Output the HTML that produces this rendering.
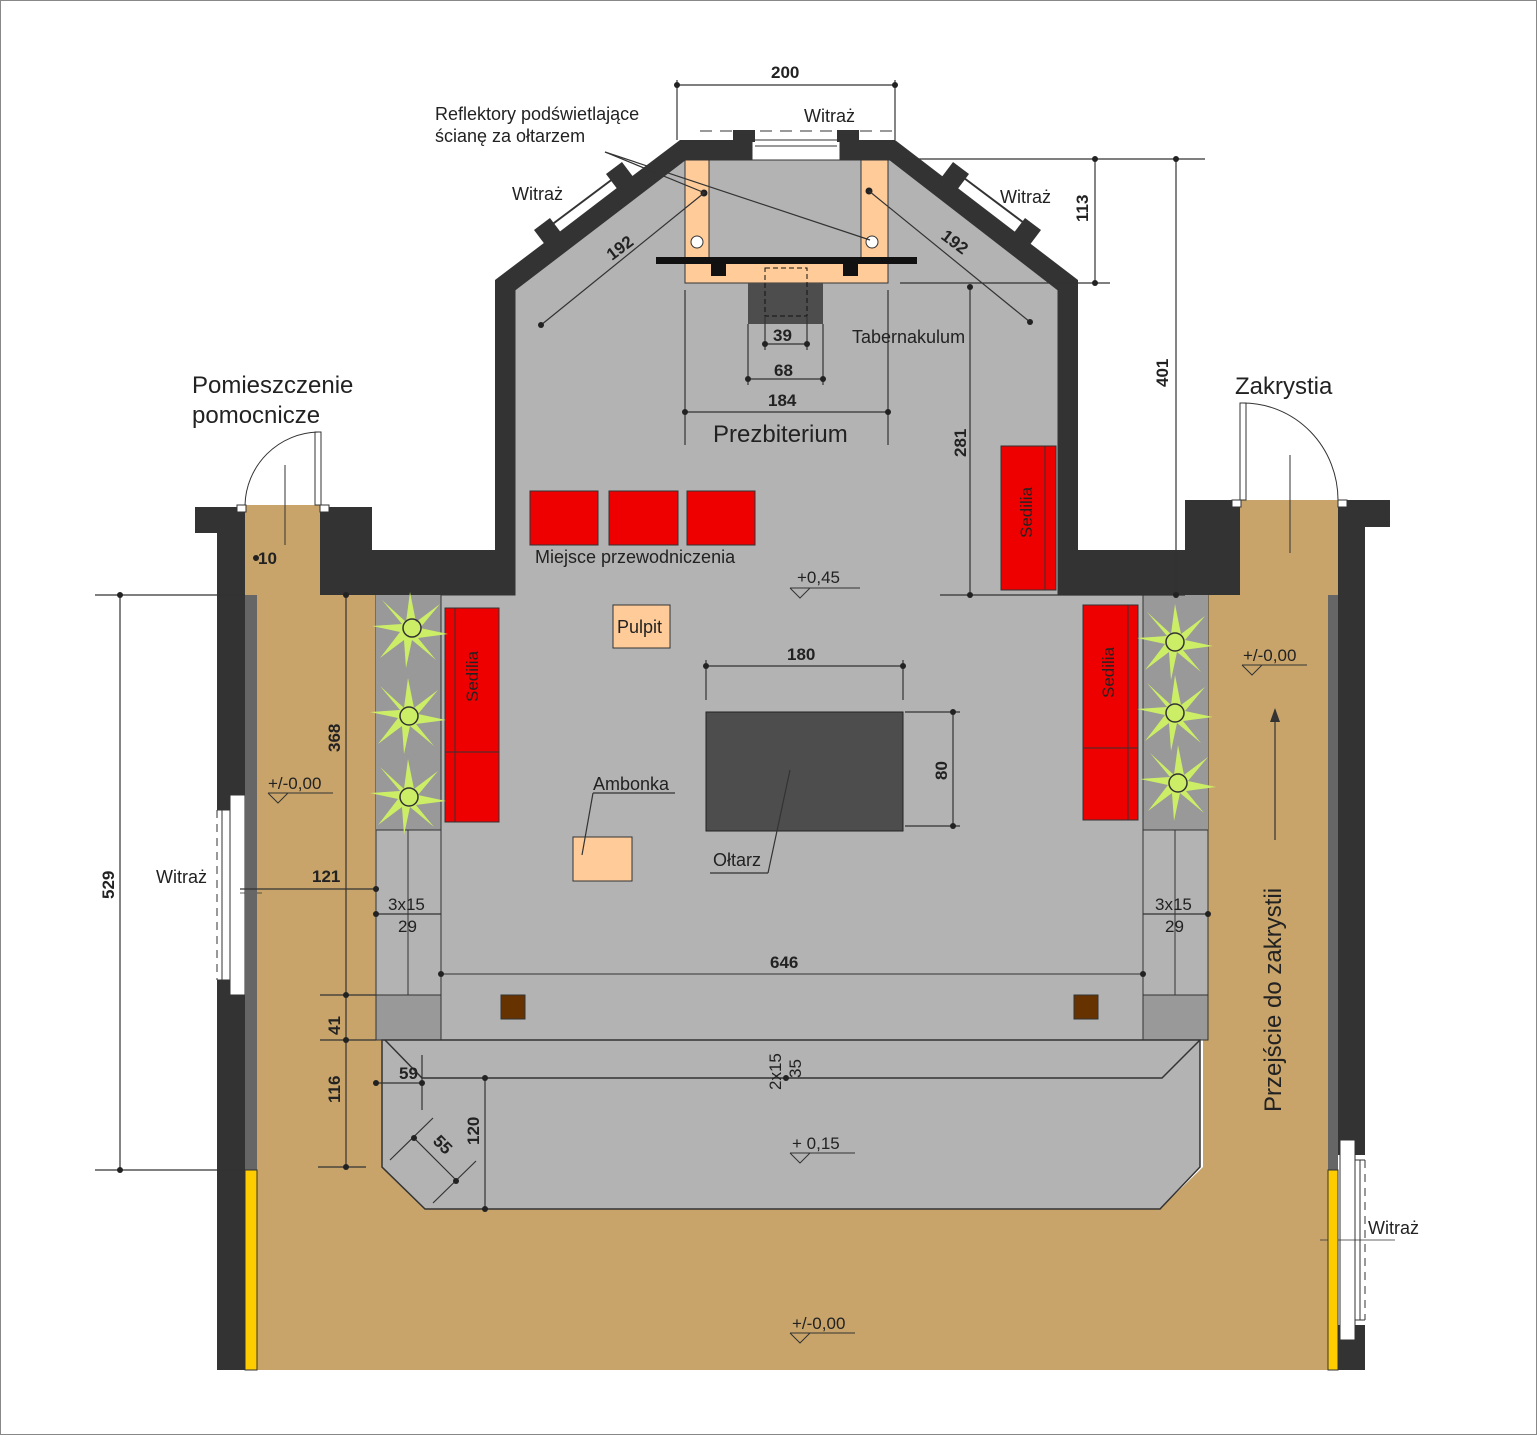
<!DOCTYPE html>
<html><head><meta charset="utf-8"><style>body{margin:0;background:#fff}svg{display:block}text{font-family:"Liberation Sans",sans-serif;fill:#222}.b{font-weight:bold;font-size:17px}.l{font-size:18px}.s{font-size:17px}</style></head><body>
<svg width="1538" height="1436" viewBox="0 0 1538 1436" xmlns="http://www.w3.org/2000/svg">
<defs>
<path id="pl" d="M0,-38 L6,-8 L30,-26 L10,-2 L38,4 L8,8 L26,30 L2,10 L-4,38 L-6,10 L-30,28 L-10,2 L-38,-4 L-8,-6 L-28,-30 L-4,-8 Z"/>
</defs>
<rect x="0.5" y="0.5" width="1536" height="1434" fill="#fff" stroke="#888"/>
<path d="M245,505 H320 V595 H376 V1040 H383 V1167 L425,1209 H1160 L1203,1167 V1040 H1208 V595 H1240 V500 H1338 V1370 H245 Z" fill="#c8a46a"/>
<path d="M515,290 L685,160 H890 L1058,290 V595 H1208 V1040 H376 V595 H515 Z" fill="#b3b3b3" stroke="#333" stroke-width="1"/>
<rect x="376" y="595" width="65" height="235" fill="#999"/>
<rect x="1143" y="595" width="65" height="235" fill="#999"/>
<rect x="376" y="830" width="65" height="165" fill="#b3b3b3" stroke="#333"/>
<line x1="408" y1="830" x2="408" y2="995" stroke="#333"/>
<rect x="376" y="995" width="65" height="45" fill="#999" stroke="#333"/>
<rect x="1143" y="830" width="65" height="165" fill="#b3b3b3" stroke="#333"/>
<line x1="1175" y1="830" x2="1175" y2="995" stroke="#333"/>
<rect x="1143" y="995" width="65" height="45" fill="#999" stroke="#333"/>
<line x1="441" y1="595" x2="441" y2="1040" stroke="#333"/>
<line x1="1143" y1="595" x2="1143" y2="1040" stroke="#333"/>
<line x1="441" y1="974" x2="1143" y2="974" stroke="#333"/>
<path d="M382,1040 H1200 V1167 L1160,1209 H425 L382,1167 Z" fill="#b3b3b3" stroke="#333" stroke-width="1.5"/>
<path d="M385,1040 L422,1078 H1162 L1200,1040" fill="none" stroke="#333" stroke-width="1.5"/>
<g fill="#333">
<path d="M195,507 H245 V1370 H217 V533 H195 Z"/>
<path d="M320,507 H372 V550 H495 V280 L680,140 H752 V160 H685 L515,290 V595 H320 Z"/>
<path d="M840,140 H895 L1078,280 V550 H1185 V500 H1240 V595 H1058 V290 L890,160 H840 Z"/>
<path d="M1338,500 H1390 V527 H1365 V1370 H1338 Z"/>
</g>
<rect x="752" y="140" width="88" height="20" fill="#fff" stroke="#333"/>
<rect x="733" y="130" width="22" height="12" fill="#333"/><rect x="837" y="130" width="22" height="12" fill="#333"/>
<line x1="755" y1="146" x2="837" y2="146" stroke="#333"/>
<line x1="700" y1="131" x2="900" y2="131" stroke="#333" stroke-dasharray="12,8"/>
<g stroke="#333" stroke-width="2">
<line x1="620" y1="178" x2="552" y2="230" stroke="#fff" stroke-width="12"/>
<line x1="622" y1="172" x2="550" y2="226"/>
<line x1="958" y1="178" x2="1026" y2="230" stroke="#fff" stroke-width="12"/>
<line x1="956" y1="172" x2="1028" y2="226"/>
</g>
<rect x="610" y="166" width="20" height="20" fill="#333" transform="rotate(-37 620 176)"/>
<rect x="538" y="222" width="20" height="20" fill="#333" transform="rotate(-37 548 232)"/>
<rect x="945" y="166" width="20" height="20" fill="#333" transform="rotate(37 955 176)"/>
<rect x="1017" y="222" width="20" height="20" fill="#333" transform="rotate(37 1027 232)"/>
<!-- left window -->
<rect x="217" y="810" width="28" height="170" fill="#fff"/>
<rect x="230" y="795" width="15" height="200" fill="#fff" stroke="#333"/>
<line x1="222" y1="810" x2="222" y2="980" stroke="#333"/>
<line x1="217" y1="810" x2="217" y2="980" stroke="#333" stroke-dasharray="8,6"/>
<line x1="217" y1="810" x2="230" y2="810" stroke="#333"/><line x1="217" y1="980" x2="230" y2="980" stroke="#333"/>
<!-- right window -->
<rect x="1338" y="1155" width="27" height="170" fill="#fff"/>
<rect x="1340" y="1140" width="15" height="200" fill="#fff" stroke="#333"/>
<line x1="1360" y1="1160" x2="1360" y2="1320" stroke="#333"/>
<line x1="1365" y1="1160" x2="1365" y2="1320" stroke="#333" stroke-dasharray="8,6"/>
<line x1="1355" y1="1160" x2="1365" y2="1160" stroke="#333"/><line x1="1355" y1="1320" x2="1365" y2="1320" stroke="#333"/>
<line x1="1320" y1="1240" x2="1395" y2="1240" stroke="#333" stroke-width="0.8"/>
<line x1="240" y1="893" x2="262" y2="893" stroke="#333" stroke-width="0.8"/>
<rect x="245" y="595" width="12" height="575" fill="#666"/>
<rect x="245" y="1170" width="12" height="200" fill="#ffcc00" stroke="#333"/>
<rect x="1328" y="595" width="10" height="575" fill="#666"/>
<rect x="1328" y="1170" width="10" height="200" fill="#ffcc00" stroke="#333"/>
<rect x="237" y="505" width="9" height="7" fill="#fff" stroke="#333"/><rect x="320" y="505" width="9" height="7" fill="#fff" stroke="#333"/>
<rect x="315" y="432" width="6" height="73" fill="#fff" stroke="#333"/>
<path d="M245,505 A75,75 0 0 1 318,432" fill="none" stroke="#333"/>
<rect x="1232" y="500" width="9" height="7" fill="#fff" stroke="#333"/><rect x="1338" y="500" width="9" height="7" fill="#fff" stroke="#333"/>
<rect x="1240" y="403" width="6" height="97" fill="#fff" stroke="#333"/>
<path d="M1243,403 A95,97 0 0 1 1338,500" fill="none" stroke="#333"/>
<line x1="285" y1="465" x2="285" y2="545" stroke="#333"/><line x1="1290" y1="455" x2="1290" y2="553" stroke="#333"/>
<rect x="685" y="160" width="24" height="103" fill="#ffcc99" stroke="#333"/>
<rect x="861" y="160" width="27" height="103" fill="#ffcc99" stroke="#333"/>
<rect x="685" y="262" width="203" height="21" fill="#ffcc99" stroke="#333"/>
<rect x="656" y="257" width="261" height="7" fill="#111"/>
<rect x="711" y="262" width="15" height="14" fill="#111"/><rect x="843" y="262" width="15" height="14" fill="#111"/>
<rect x="748" y="283" width="75" height="41" fill="#4d4d4d"/>
<rect x="765" y="268" width="42" height="48" fill="none" stroke="#111" stroke-dasharray="5,3"/>
<circle cx="697" cy="242" r="6" fill="#fff" stroke="#333"/><circle cx="872" cy="242" r="6" fill="#fff" stroke="#333"/>
<circle cx="704" cy="193" r="3.5" fill="#222"/><circle cx="869" cy="191" r="3.5" fill="#222"/>
<rect x="706" y="712" width="197" height="119" fill="#4d4d4d" stroke="#222"/>
<g fill="#ee0000" stroke="#333">
<rect x="530" y="491" width="68" height="54"/><rect x="609" y="491" width="69" height="54"/><rect x="687" y="491" width="68" height="54"/>
<rect x="1001" y="446" width="55" height="144"/><line x1="1045" y1="446" x2="1045" y2="590"/>
<rect x="445" y="608" width="54" height="214"/><line x1="445" y1="752" x2="499" y2="752"/><line x1="455" y1="608" x2="455" y2="822"/>
<rect x="1083" y="605" width="55" height="215"/><line x1="1083" y1="748" x2="1138" y2="748"/><line x1="1128" y1="605" x2="1128" y2="820"/>
</g>
<rect x="613" y="605" width="57" height="43" fill="#ffcc99" stroke="#333"/>
<rect x="573" y="837" width="59" height="44" fill="#ffcc99" stroke="#333"/>
<rect x="501" y="995" width="24" height="24" fill="#663300" stroke="#333"/>
<rect x="1074" y="995" width="24" height="24" fill="#663300" stroke="#333"/>
<g fill="#ccee66"><use href="#pl" x="410" y="630"/><use href="#pl" x="408" y="716"/><use href="#pl" x="408" y="797"/><use href="#pl" x="1175" y="642"/><use href="#pl" x="1175" y="713"/><use href="#pl" x="1178" y="783"/></g>
<g fill="none" stroke="#333" stroke-width="1.5"><circle cx="412" cy="628" r="9"/><circle cx="409" cy="716" r="9"/><circle cx="409" cy="797" r="9"/><circle cx="1175" cy="642" r="9"/><circle cx="1175" cy="713" r="9"/><circle cx="1178" cy="783" r="9"/></g>
<g stroke="#333" stroke-width="1.2" fill="none">
<line x1="677" y1="85" x2="895" y2="85"/><line x1="677" y1="80" x2="677" y2="140"/><line x1="895" y1="80" x2="895" y2="140"/>
<line x1="1095" y1="159" x2="1095" y2="283"/><line x1="900" y1="159" x2="1205" y2="159"/><line x1="900" y1="283" x2="1110" y2="283"/>
<line x1="1176" y1="159" x2="1176" y2="595"/>
<line x1="970" y1="287" x2="970" y2="595"/><line x1="940" y1="595" x2="1185" y2="595"/>
<line x1="541" y1="325" x2="704" y2="193"/><line x1="1030" y1="322" x2="869" y2="191"/>
<line x1="685" y1="290" x2="685" y2="445"/><line x1="888" y1="290" x2="888" y2="445"/>
<line x1="685" y1="412" x2="888" y2="412"/><line x1="748" y1="379" x2="823" y2="379"/><line x1="765" y1="344" x2="807" y2="344"/>
<line x1="748" y1="324" x2="748" y2="385"/><line x1="823" y1="324" x2="823" y2="385"/><line x1="765" y1="316" x2="765" y2="350"/><line x1="807" y1="316" x2="807" y2="350"/>
<line x1="706" y1="666" x2="903" y2="666"/><line x1="706" y1="660" x2="706" y2="700"/><line x1="903" y1="660" x2="903" y2="700"/>
<line x1="953" y1="712" x2="953" y2="826"/><line x1="905" y1="712" x2="960" y2="712"/><line x1="905" y1="826" x2="960" y2="826"/>
<line x1="120" y1="595" x2="120" y2="1170"/><line x1="95" y1="595" x2="245" y2="595"/><line x1="95" y1="1170" x2="245" y2="1170"/>
<line x1="346" y1="595" x2="346" y2="1167"/><line x1="320" y1="995" x2="376" y2="995"/><line x1="320" y1="1040" x2="376" y2="1040"/><line x1="318" y1="1167" x2="366" y2="1167"/>
<line x1="240" y1="889" x2="376" y2="889"/><line x1="376" y1="914" x2="441" y2="914"/><line x1="1143" y1="914" x2="1208" y2="914"/>
<line x1="376" y1="1083" x2="422" y2="1083"/><line x1="422" y1="1055" x2="422" y2="1110"/><line x1="485" y1="1078" x2="485" y2="1209"/>
<line x1="414" y1="1138" x2="457" y2="1181"/><line x1="390" y1="1160" x2="433" y2="1118"/><line x1="433" y1="1203" x2="476" y2="1161"/>
<line x1="605" y1="152" x2="705" y2="193"/><line x1="605" y1="152" x2="870" y2="240"/>
<line x1="790" y1="770" x2="768" y2="873"/><line x1="710" y1="873" x2="768" y2="873"/>
<line x1="593" y1="793" x2="675" y2="793"/><line x1="593" y1="793" x2="582" y2="855"/>
<line x1="1275" y1="710" x2="1275" y2="840"/>
</g>
<path d="M1275,708 l-5,14 h10 z" fill="#333"/>
<g fill="#222">
<circle cx="677" cy="85" r="3"/><circle cx="895" cy="85" r="3"/><circle cx="1095" cy="159" r="3"/><circle cx="1095" cy="283" r="3"/><circle cx="1176" cy="159" r="3"/><circle cx="1176" cy="595" r="3"/><circle cx="970" cy="287" r="3"/><circle cx="970" cy="595" r="3"/>
<circle cx="541" cy="325" r="3"/><circle cx="1030" cy="322" r="3"/><circle cx="685" cy="412" r="3"/><circle cx="888" cy="412" r="3"/><circle cx="748" cy="379" r="3"/><circle cx="823" cy="379" r="3"/><circle cx="765" cy="344" r="3"/><circle cx="807" cy="344" r="3"/>
<circle cx="706" cy="666" r="3"/><circle cx="903" cy="666" r="3"/><circle cx="953" cy="712" r="3"/><circle cx="953" cy="826" r="3"/><circle cx="441" cy="974" r="3"/><circle cx="1143" cy="974" r="3"/>
<circle cx="120" cy="595" r="3"/><circle cx="120" cy="1170" r="3"/><circle cx="346" cy="595" r="3"/><circle cx="346" cy="995" r="3"/><circle cx="346" cy="1040" r="3"/><circle cx="346" cy="1167" r="3"/>
<circle cx="376" cy="889" r="3"/><circle cx="376" cy="914" r="3"/><circle cx="1208" cy="914" r="3"/><circle cx="376" cy="1083" r="3"/><circle cx="422" cy="1083" r="3"/><circle cx="485" cy="1078" r="3"/><circle cx="485" cy="1209" r="3"/><circle cx="786" cy="1078" r="3"/>
<circle cx="414" cy="1138" r="3"/><circle cx="456" cy="1181" r="3"/><circle cx="256" cy="558" r="3"/>
</g>
<g fill="none" stroke="#333"><path d="M790,588 h70 M790,588 l10,10 l10,-10"/><path d="M1242,665 h65 M1242,665 l10,10 l10,-10"/><path d="M268,793 h65 M268,793 l10,10 l10,-10"/><path d="M790,1153 h65 M790,1153 l10,10 l10,-10"/><path d="M790,1333 h65 M790,1333 l10,10 l10,-10"/></g>
<text x="771" y="78" class="b">200</text>
<text x="435" y="120" class="l">Reflektory podświetlające</text>
<text x="435" y="142" class="l">ścianę za ołtarzem</text>
<text x="804" y="122" class="l">Witraż</text>
<text x="512" y="200" class="l">Witraż</text>
<text x="1000" y="203" class="l">Witraż</text>
<text class="b" transform="translate(1088,222) rotate(-90)">113</text>
<text class="b" transform="translate(1168,387) rotate(-90)">401</text>
<text class="b" transform="translate(966,457) rotate(-90)">281</text>
<text class="b" transform="translate(612,261) rotate(-37)">192</text>
<text class="b" transform="translate(940,238) rotate(37)">192</text>
<text x="773" y="341" class="b">39</text>
<text x="774" y="376" class="b">68</text>
<text x="768" y="406" class="b">184</text>
<text x="852" y="343" class="l">Tabernakulum</text>
<text x="713" y="442" style="font-size:24px">Prezbiterium</text>
<text x="192" y="393" style="font-size:24px">Pomieszczenie</text>
<text x="192" y="423" style="font-size:24px">pomocnicze</text>
<text x="1235" y="394" style="font-size:24px">Zakrystia</text>
<text x="535" y="563" class="l">Miejsce przewodniczenia</text>
<text x="797" y="583" class="s">+0,45</text>
<text x="617" y="633" class="l">Pulpit</text>
<text class="s" transform="translate(1032,538) rotate(-90)">Sedilia</text>
<text class="s" transform="translate(478,702) rotate(-90)">Sedilia</text>
<text class="s" transform="translate(1114,698) rotate(-90)">Sedilia</text>
<text x="787" y="660" class="b">180</text>
<text class="b" transform="translate(947,780) rotate(-90)">80</text>
<text x="1243" y="661" class="s">+/-0,00</text>
<text x="268" y="789" class="s">+/-0,00</text>
<text x="593" y="790" class="l">Ambonka</text>
<text x="713" y="866" class="l">Ołtarz</text>
<text x="258" y="564" class="b">10</text>
<text class="b" transform="translate(340,752) rotate(-90)">368</text>
<text class="b" transform="translate(114,899) rotate(-90)">529</text>
<text x="156" y="883" class="l">Witraż</text>
<text x="312" y="882" class="b">121</text>
<text x="388" y="910" class="s">3x15</text>
<text x="398" y="932" class="s">29</text>
<text x="1155" y="910" class="s">3x15</text>
<text x="1165" y="932" class="s">29</text>
<text x="770" y="968" class="b">646</text>
<text class="b" transform="translate(340,1035) rotate(-90)">41</text>
<text class="b" transform="translate(340,1103) rotate(-90)">116</text>
<text x="399" y="1079" class="b">59</text>
<text class="s" transform="translate(781,1090) rotate(-90)">2x15</text>
<text class="s" transform="translate(801,1078) rotate(-90)">35</text>
<text class="b" transform="translate(479,1145) rotate(-90)">120</text>
<text class="b" transform="translate(432,1142) rotate(45)">55</text>
<text x="792" y="1149" class="s">+ 0,15</text>
<text x="792" y="1329" class="s">+/-0,00</text>
<text style="font-size:24px" transform="translate(1281,1112) rotate(-90)">Przejście do zakrystii</text>
<text x="1368" y="1234" class="l">Witraż</text>
</svg>
</body></html>
